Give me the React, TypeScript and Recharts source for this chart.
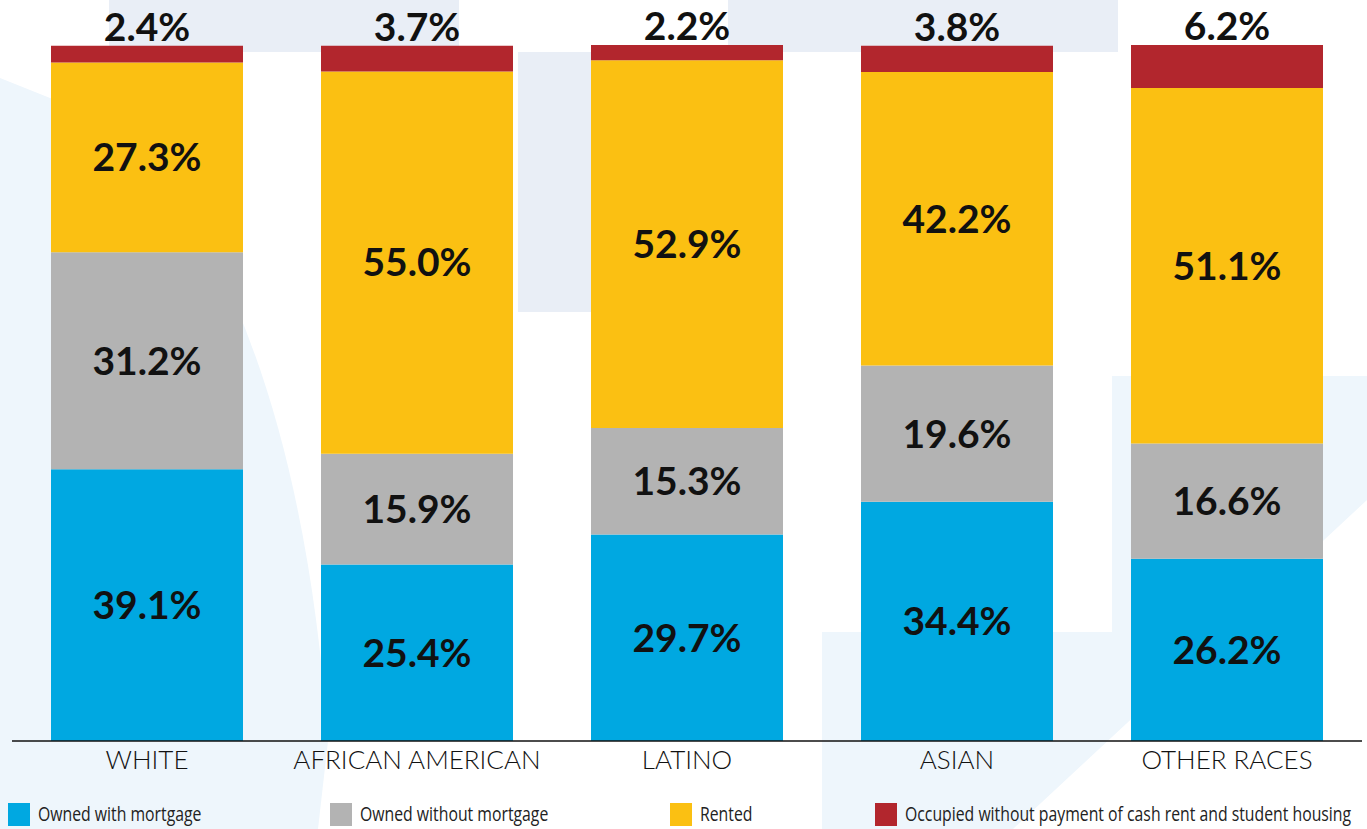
import React from 'react';
import { BarChart, Bar, XAxis, YAxis, LabelList } from 'recharts';

const categories = ['WHITE', 'AFRICAN AMERICAN', 'LATINO', 'ASIAN', 'OTHER RACES'];
const ownedWithMortgage = [39.1, 25.4, 29.7, 34.4, 26.2];
const ownedWithoutMortgage = [31.2, 15.9, 15.3, 19.6, 16.6];
const rented = [27.3, 55.0, 52.9, 42.2, 51.1];
const occupiedNoRent = [2.4, 3.7, 2.2, 3.8, 6.2];

const seriesNames = [
  'Owned with mortgage',
  'Owned without mortgage',
  'Rented',
  'Occupied without payment of cash rent and student housing',
];

const COLORS = {
  mortgage: '#00a8e1',
  noMortgage: '#b3b3b3',
  rented: '#fbc012',
  occupied: '#b2262d',
};

const W = 1367;
const H = 829;

const data = categories.map((c, i) => ({
  name: c,
  mortgage: ownedWithMortgage[i],
  noMortgage: ownedWithoutMortgage[i],
  rented: rented[i],
  occupied: occupiedNoRent[i],
}));

const fmt = (v: any) => `${Number(v).toFixed(1)}%`;

const labelStyle = {
  fontFamily: 'Lato, "Open Sans", sans-serif',
  fontWeight: 700,
  fontSize: 39,
  fill: '#111',
};

// faint logo shapes behind the chart
function Backdrop() {
  return (
    <svg width={W} height={H} style={{ position: 'absolute', left: 0, top: 0 }}>
      <rect x={109} y={0} width={350} height={52} fill="#e9eef6" />
      <rect x={518} y={52} width={92} height={260} fill="#e9eef6" />
      <rect x={728} y={0} width={390} height={52} fill="#e9eef6" />
      <path d="M0,78 L130,130 Q300,330 328,741 L318,829 L0,829 Z" fill="#eef6fc" />
      <path
        d="M1112,376 L1367,376 L1367,500 L1013,829 L822,829 L822,632 L1112,632 Z"
        fill="#eef6fc"
      />
    </svg>
  );
}

const legendColors = [COLORS.mortgage, COLORS.noMortgage, COLORS.rented, COLORS.occupied];
const legendLeft = [8, 330, 670, 875];

// the legend font is condensed in the original; squeeze Open Sans horizontally
function LegendRow() {
  return (
    <svg width={W} height={31} style={{ position: 'absolute', left: 0, top: 797 }}>
      {seriesNames.map((n, i) => (
        <g key={n}>
          <rect x={legendLeft[i]} y={6} width={22} height={23} fill={legendColors[i]} />
          <g transform={`translate(${legendLeft[i] + 30}, 24) scale(0.79, 1)`}>
            <text x={0} y={0} fontFamily='"Open Sans", sans-serif' fontSize={20} fill="#222">
              {n}
            </text>
          </g>
        </g>
      ))}
    </svg>
  );
}

export default function App() {
  return (
    <div style={{ position: 'absolute', left: 0, top: 0, width: W, height: H, background: '#fff', overflow: 'hidden' }}>
      <Backdrop />
      <div style={{ position: 'absolute', left: 0, top: 0 }}>
        <BarChart
          width={W}
          height={H}
          data={data}
          margin={{ top: 45, right: 5, left: 12, bottom: 0 }}
        >
          <XAxis
            dataKey="name"
            height={88}
            tickLine={false}
            tickMargin={4}
            axisLine={{ stroke: '#111', strokeWidth: 1.5 }}
            tick={{ fontFamily: 'Lato, sans-serif', fontWeight: 300, fontSize: 26, fill: '#111' }}
            interval={0}
          />
          <YAxis hide domain={[0, 'dataMax']} />
          <Bar dataKey="mortgage" stackId="a" fill={COLORS.mortgage} barSize={192} isAnimationActive={false}>
            <LabelList dataKey="mortgage" position="center" formatter={fmt} style={labelStyle} />
          </Bar>
          <Bar dataKey="noMortgage" stackId="a" fill={COLORS.noMortgage} barSize={192} isAnimationActive={false}>
            <LabelList dataKey="noMortgage" position="center" formatter={fmt} style={labelStyle} />
          </Bar>
          <Bar dataKey="rented" stackId="a" fill={COLORS.rented} barSize={192} isAnimationActive={false}>
            <LabelList dataKey="rented" position="center" formatter={fmt} style={labelStyle} />
          </Bar>
          <Bar dataKey="occupied" stackId="a" fill={COLORS.occupied} barSize={192} isAnimationActive={false}>
            <LabelList dataKey="occupied" position="top" offset={5} formatter={fmt} style={labelStyle} />
          </Bar>
        </BarChart>
      </div>
      <LegendRow />
    </div>
  );
}
